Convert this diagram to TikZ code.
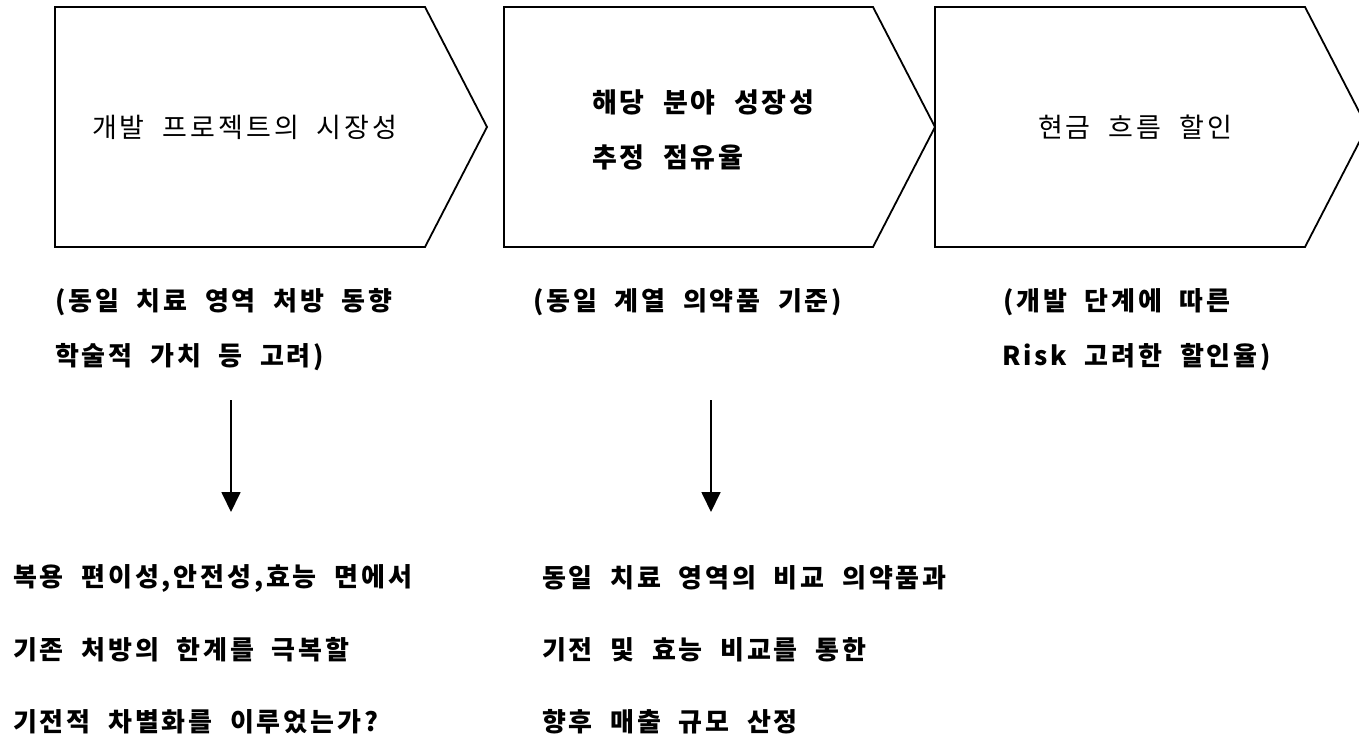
\documentclass[tikz,border=0pt]{standalone}
\usepackage{fontspec}
\setmainfont{Noto Sans CJK KR}[WordSpace=2,LetterSpace=11]
\usetikzlibrary{arrows.meta}
\begin{document}
\begin{tikzpicture}[x=1pt,y=-1pt,
  chev/.style={draw=black,line width=1.8pt,line join=miter},
  lbl/.style={anchor=west,inner sep=0pt,font=\fontsize{27}{30}\selectfont},
  lblb/.style={anchor=west,inner sep=0pt,font=\fontsize{27}{30}\selectfont\bfseries},
  sub/.style={anchor=west,inner sep=0pt,font=\fontsize{26}{30}\selectfont\bfseries},
  link/.style={line width=1.8pt,-{Triangle[width=19pt,length=20pt]}}]
\useasboundingbox (0,0) rectangle (1359,743);
\clip (0,0) rectangle (1359,743);
% chevrons
\draw[chev] (55,7) -- (425,7) -- (487,127) -- (425,247) -- (55,247) -- cycle;
\draw[chev] (504,7) -- (873,7) -- (935,127) -- (873,247) -- (504,247) -- cycle;
\draw[chev] (935,7) -- (1305,7) -- (1367,127) -- (1305,247) -- (935,247) -- cycle;
% box texts
\node[lbl]  (t1)  at (92,127)   {개발 프로젝트의 시장성};
\node[lblb] (t2a) at (592,102)  {해당 분야 성장성};
\node[lblb] (t2b) at (592,157)  {추정 점유율};
\node[lbl]  (t3)  at (1038,127) {현금 흐름 할인};
% sub texts
\node[sub] (s1a) at (55,302)   {(동일 치료 영역 처방 동향};
\node[sub] (s1b) at (55,357)   {학술적 가치 등 고려)};
\node[sub] (s2)  at (533,302)  {(동일 계열 의약품 기준)};
\node[sub] (s3a) at (1003,302) {(개발 단계에 따른};
\node[sub] (s3b) at (1002,357) {Risk 고려한 할인율)};
% bottom texts
\node[sub] (b1a) at (13,578)  {복용 편이성,안전성,효능 면에서};
\node[sub] (b1b) at (13,650)  {기존 처방의 한계를 극복할};
\node[sub] (b1c) at (13,722)  {기전적 차별화를 이루었는가?};
\node[sub] (b2a) at (542,578) {동일 치료 영역의 비교 의약품과};
\node[sub] (b2b) at (542,650) {기전 및 효능 비교를 통한};
\node[sub] (b2c) at (542,722) {향후 매출 규모 산정};
% arrows
\coordinate (a1s) at (231,400);
\coordinate (a1e) at (231,512);
\coordinate (a2s) at (711,400);
\coordinate (a2e) at (711,512);
\draw[link] (a1s) -- (a1e);
\draw[link] (a2s) -- (a2e);
\end{tikzpicture}
\end{document}
